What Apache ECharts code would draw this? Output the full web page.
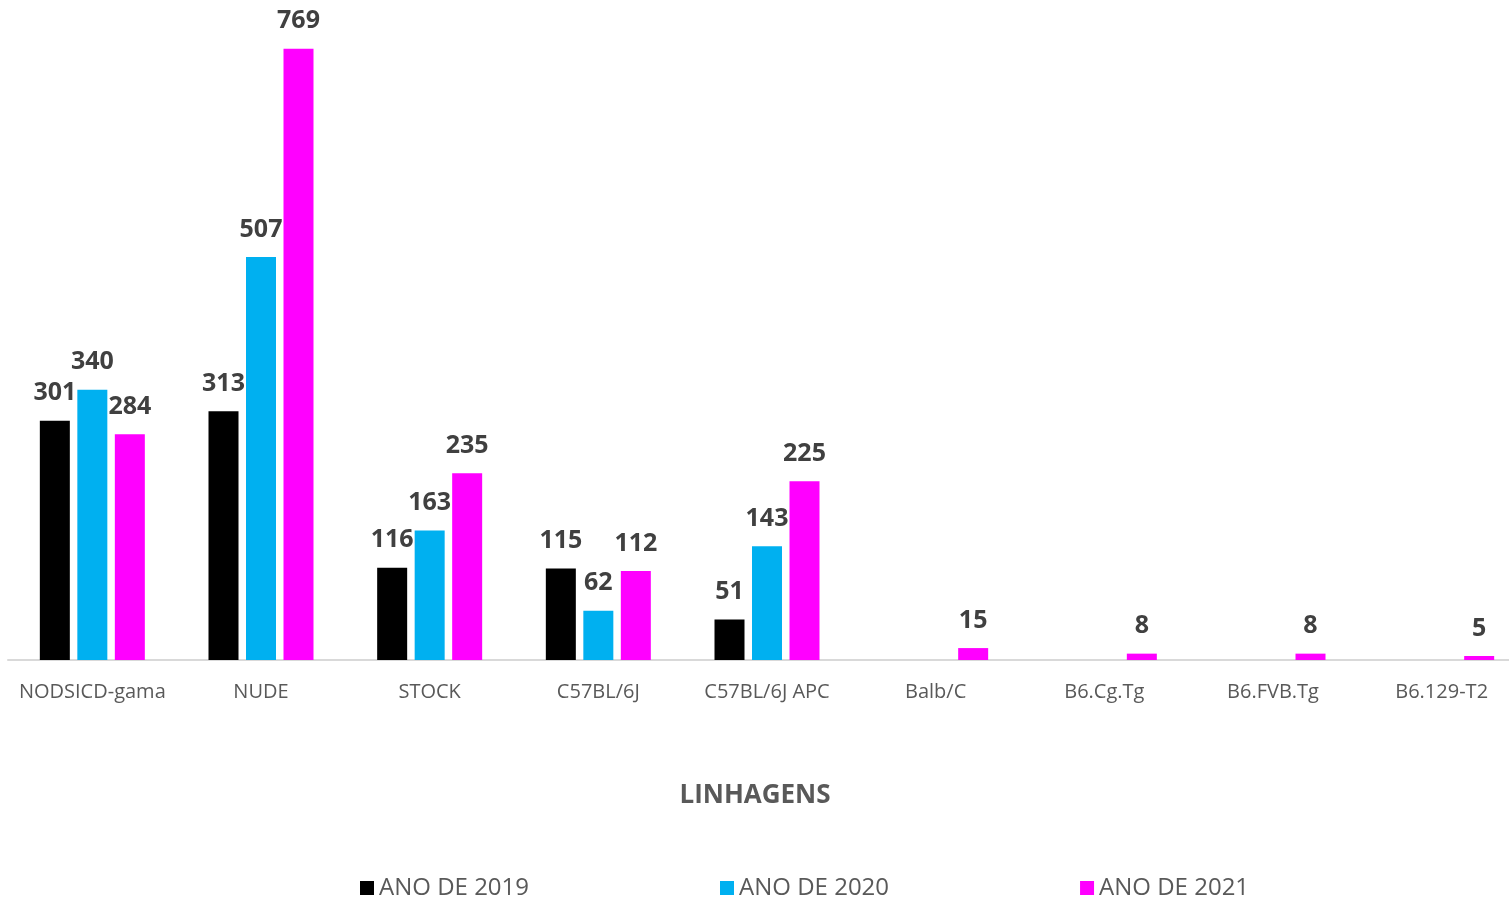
<!DOCTYPE html>
<html>
<head>
<meta charset="utf-8">
<script src="https://cdn.jsdelivr.net/npm/echarts@6/dist/echarts.min.js"></script>
<style>
  html, body { margin: 0; padding: 0; background: #fff; overflow: hidden; }
  #chart { width: 1526px; height: 900px; }
</style>
</head>
<body>
<div id="chart"></div>
<script>
const categories = ['NODSICD-gama', 'NUDE', 'STOCK', 'C57BL/6J', 'C57BL/6J APC', 'Balb/C', 'B6.Cg.Tg', 'B6.FVB.Tg', 'B6.129-T2']
const seriesNames = ['ANO DE 2019', 'ANO DE 2020', 'ANO DE 2021']
const ano2019 = [301, 313, 116, 115, 51, null, null, null, null]
const ano2020 = [340, 507, 163, 62, 143, null, null, null, null]
const ano2021 = [284, 769, 235, 112, 225, 15, 8, 8, 5]
const colors = ['#000000', '#00B0F0', '#FF00FF']

// the last category runs past the right edge of the 1509px window, like the original
const chart = echarts.init(document.getElementById('chart'))

const labelStyle = {
  show: true,
  position: 'top',
  distance: 15,
  fontFamily: 'Open Sans',
  fontWeight: 'bold',
  fontSize: 25,
  color: '#404040'
}

function makeSeries(name, data, color) {
  return {
    name: name,
    type: 'bar',
    data: data,
    barWidth: 30,
    barGap: '25%',
    itemStyle: { color: color },
    label: labelStyle
  }
}

chart.setOption({
  animation: false,
  textStyle: { fontFamily: 'Open Sans' },
  title: {
    text: 'LINHAGENS',
    left: 750,
    top: 778,
    textAlign: 'center',
    textStyle: { fontSize: 26, fontWeight: 'bold', color: '#595959', fontFamily: 'Open Sans' }
  },
  grid: {
    left: 8,
    right: 0,
    top: 24,
    bottom: 240
  },
  legend: {
    top: 871,
    left: 355,
    icon: 'rect',
    itemWidth: 14,
    itemHeight: 14,
    itemGap: 191,
    textStyle: { fontSize: 24, color: '#595959', fontFamily: 'Open Sans' },
    data: seriesNames
  },
  xAxis: {
    type: 'category',
    data: categories,
    axisLine: { lineStyle: { color: '#D9D9D9', width: 2 } },
    axisTick: { show: false },
    axisLabel: { fontSize: 20, color: '#595959', margin: 22, interval: 0 }
  },
  yAxis: {
    type: 'value',
    min: 0,
    max: 800,
    show: false
  },
  series: [
    makeSeries(seriesNames[0], ano2019, colors[0]),
    makeSeries(seriesNames[1], ano2020, colors[1]),
    makeSeries(seriesNames[2], ano2021, colors[2])
  ]
})
</script>
</body>
</html>
